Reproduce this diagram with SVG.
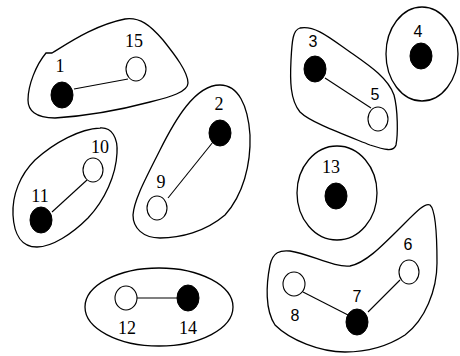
<svg xmlns="http://www.w3.org/2000/svg" width="460" height="356" viewBox="0 0 460 356">
<style>
.blob{fill:none;stroke:#000;stroke-width:1.3}
.edge{stroke:#000;stroke-width:1.1;fill:none}
.full{fill:#000;stroke:#000;stroke-width:1}
.open{fill:#fff;stroke:#000;stroke-width:1.1}
.ls{font-family:"Liberation Serif","Times New Roman",serif;font-size:18px;text-anchor:middle;fill:#000}
.la{font-family:"Liberation Sans",Arial,sans-serif;font-size:16px;text-anchor:middle;fill:#000}
</style>
<rect width="460" height="356" fill="#fff"/>
<g id="clusters">
<path class="blob" d="M46,53 L52,53 C70,42 95,25 125,19 C140,17 150,25 163,40 C175,55 188,72 188,83 C188,92 170,97 150,102 C120,110 85,116 55,118 C35,118 28,110 28,100 C28,85 36,65 46,53 Z"/>
<path class="blob" d="M100,128 C112,127 118,138 117,153 C116,175 105,200 88,218 C72,234 52,247 37,247 C22,247 14,235 13,215 C12,195 20,175 35,160 C55,142 80,129 100,128 Z"/>
<path class="blob" d="M220,85 C238,85 248,105 250,135 C251,165 243,195 225,215 C205,232 180,238 160,238 C143,238 133,228 133,215 C134,200 145,180 160,150 C175,120 195,85 220,85 Z"/>
<ellipse class="blob" cx="159" cy="307" rx="74" ry="39"/>
<path class="blob" d="M300,28 C315,25 330,38 350,52 C370,66 388,78 394,95 C398,110 398,135 396,145 C394,152 385,150 370,145 C340,133 310,122 300,112 C290,100 290,80 291,60 C292,40 293,30 300,28 Z"/>
<ellipse class="blob" cx="422" cy="54" rx="36" ry="47"/>
<ellipse class="blob" cx="337" cy="193" rx="40" ry="47"/>
<path class="blob" d="M430,205 C436,210 437,240 437,263 C437,290 425,320 405,335 C385,348 365,352 345,352 C320,352 290,340 275,325 C265,310 266,285 270,265 C273,252 280,250 290,251 C310,254 335,268 350,266 C365,263 380,248 400,228 C415,213 425,202 430,205 Z"/>
</g>
<g id="connectors">
<line class="edge" x1="74" y1="89" x2="128" y2="79"/>
<line class="edge" x1="168" y1="198" x2="213" y2="142"/>
<line class="edge" x1="52" y1="212" x2="87" y2="180"/>
<line class="edge" x1="137" y1="298" x2="178" y2="298"/>
<line class="edge" x1="325" y1="78" x2="371" y2="108"/>
<line class="edge" x1="303" y1="292" x2="348" y2="315"/>
<line class="edge" x1="368" y1="312" x2="400" y2="280"/>
</g>
<g id="n1"><ellipse class="full" cx="62" cy="95" rx="11" ry="13"/><text class="ls" x="60" y="72">1</text></g>
<g id="n15"><ellipse class="open" cx="136" cy="69" rx="10" ry="12"/><text class="ls" x="134" y="47">15</text></g>
<g id="n2"><ellipse class="full" cx="220" cy="133" rx="11" ry="13"/><text class="ls" x="219" y="110">2</text></g>
<g id="n9"><ellipse class="open" cx="157" cy="208" rx="10" ry="12"/><text class="ls" x="161" y="188">9</text></g>
<g id="n10"><ellipse class="open" cx="93" cy="170" rx="10" ry="12"/><text class="ls" x="100" y="153">10</text></g>
<g id="n11"><ellipse class="full" cx="41" cy="220" rx="11" ry="13"/><text class="ls" x="40" y="202">11</text></g>
<g id="n12"><ellipse class="open" cx="126" cy="298" rx="11" ry="12"/><text class="ls" x="127" y="334">12</text></g>
<g id="n14"><ellipse class="full" cx="188" cy="298" rx="11" ry="13"/><text class="ls" x="188" y="334">14</text></g>
<g id="n3"><ellipse class="full" cx="315" cy="69" rx="11" ry="13"/><text class="la" x="313" y="47">3</text></g>
<g id="n5"><ellipse class="open" cx="378" cy="119" rx="10" ry="12"/><text class="la" x="375" y="100">5</text></g>
<g id="n4"><ellipse class="full" cx="421" cy="56" rx="11" ry="13"/><text class="la" x="418" y="37">4</text></g>
<g id="n13"><ellipse class="full" cx="336" cy="196" rx="11" ry="13"/><text class="ls" x="331" y="173">13</text></g>
<g id="n6"><ellipse class="open" cx="409" cy="272" rx="10" ry="12"/><text class="la" x="408" y="250">6</text></g>
<g id="n7"><ellipse class="full" cx="357" cy="322" rx="11" ry="13"/><text class="la" x="357" y="302">7</text></g>
<g id="n8"><ellipse class="open" cx="294" cy="284" rx="11" ry="12"/><text class="la" x="295" y="321">8</text></g>
</svg>
